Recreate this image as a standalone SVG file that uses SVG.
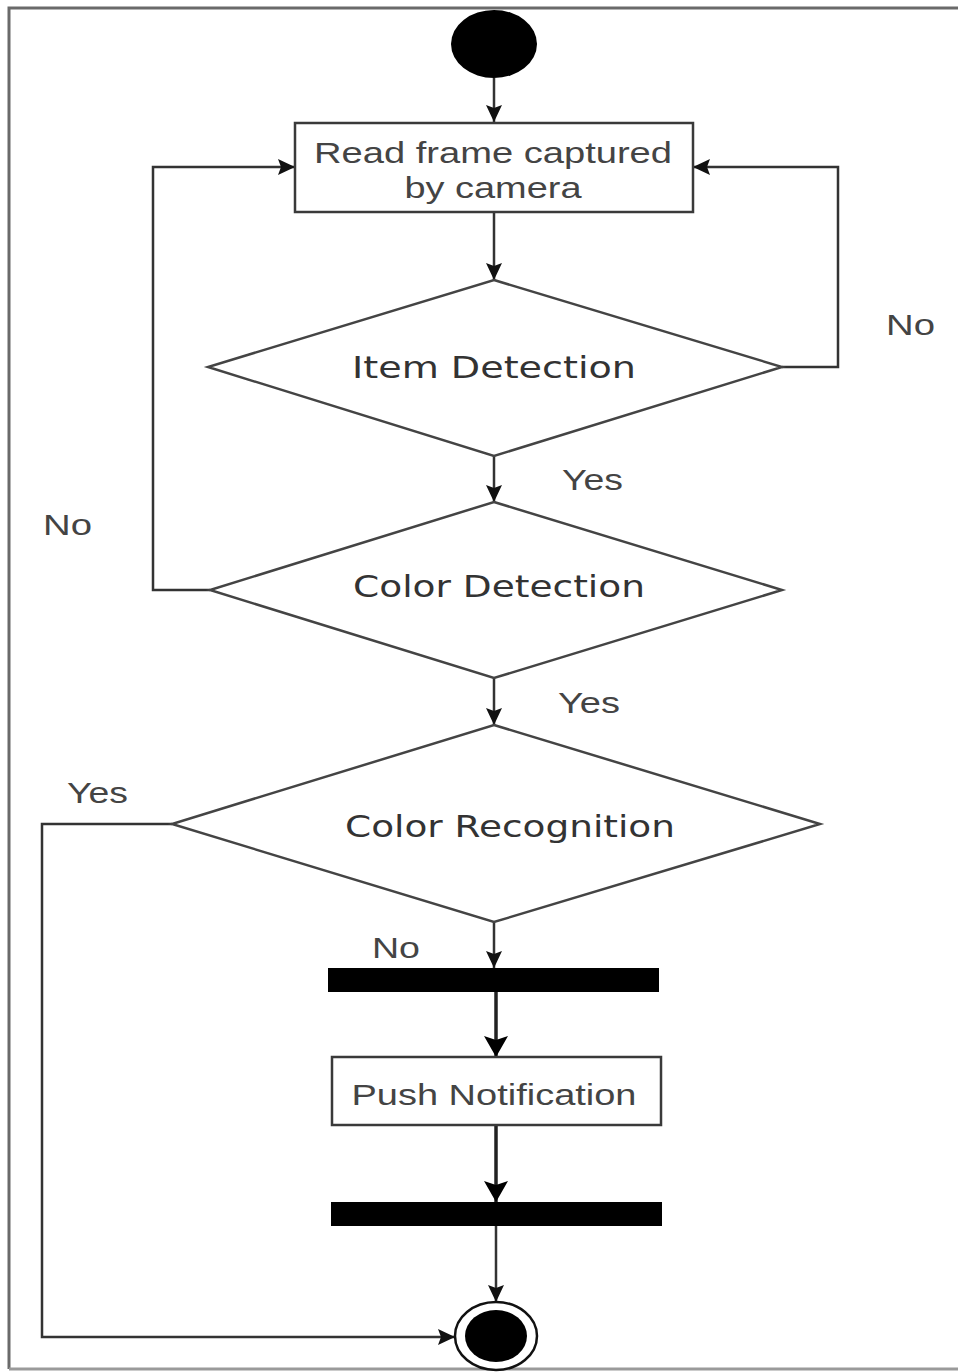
<svg xmlns="http://www.w3.org/2000/svg" width="958" height="1372" viewBox="0 0 958 1372">
<defs>
<style>
.frame{fill:none;stroke:#6a6a6a;stroke-width:3}
.frameb{fill:none;stroke:#9a9a9a;stroke-width:3}
.box{fill:#fff;stroke:#3a3a3a;stroke-width:2.5}
.dia{fill:#fff;stroke:#444;stroke-width:2.5}
.con{fill:none;stroke:#333;stroke-width:2.5}
.thick{fill:none;stroke:#222;stroke-width:3.5}
.bar{fill:#000}
.t{font-family:"DejaVu Sans",Verdana,sans-serif;font-size:30px;fill:#333;text-anchor:middle}
.a{font-family:"Liberation Sans",Arial,sans-serif;font-size:30px;fill:#444;text-anchor:middle}
.lab{font-family:"Liberation Sans",Arial,sans-serif;font-size:29px;fill:#444}
</style>
<marker id="ah" markerUnits="userSpaceOnUse" markerWidth="18" markerHeight="16" refX="17" refY="8" orient="auto">
<path d="M0,0 L17,8 L0,16 L3,8 z" fill="#111"/>
</marker>
<marker id="ahb" markerUnits="userSpaceOnUse" markerWidth="22" markerHeight="24" refX="21" refY="12" orient="auto">
<path d="M0,0 L21,12 L0,24 L4,12 z" fill="#000"/>
</marker>
</defs>
<rect width="958" height="1372" fill="#fff"/>
<path class="frame" d="M958,8 H9 V1369"/>
<path class="frameb" d="M9,1369 H958"/>

<g id="connectors">
<path class="con" d="M494,78 V122" marker-end="url(#ah)"/>
<path class="con" d="M494,212 V280" marker-end="url(#ah)"/>
<path class="con" d="M782,367 H838 V167 H693" marker-end="url(#ah)"/>
<path class="con" d="M494,456 V502" marker-end="url(#ah)"/>
<path class="con" d="M210,590 H153 V167 H295" marker-end="url(#ah)"/>
<path class="con" d="M494,678 V725" marker-end="url(#ah)"/>
<path class="con" d="M494,922 V968" marker-end="url(#ah)"/>
<path class="con" d="M172,824 H42 V1337 H455" marker-end="url(#ah)"/>
<path class="thick" d="M496,992 V1057" marker-end="url(#ahb)"/>
<path class="thick" d="M496,1125 V1202" marker-end="url(#ahb)"/>
<path class="con" d="M496,1226 V1302" marker-end="url(#ah)"/>
<text class="lab" x="886" y="335" textLength="49" lengthAdjust="spacingAndGlyphs">No</text>
<text class="lab" x="43" y="535" textLength="49" lengthAdjust="spacingAndGlyphs">No</text>
<text class="lab" x="562" y="490" textLength="61" lengthAdjust="spacingAndGlyphs">Yes</text>
<text class="lab" x="558" y="713" textLength="62" lengthAdjust="spacingAndGlyphs">Yes</text>
<text class="lab" x="67" y="803" textLength="61" lengthAdjust="spacingAndGlyphs">Yes</text>
<text class="lab" x="372" y="958" textLength="48" lengthAdjust="spacingAndGlyphs">No</text>
</g>

<g id="start">
<ellipse cx="494" cy="44" rx="43" ry="34" fill="#000"/>
</g>

<g id="read-frame">
<rect class="box" x="295" y="123" width="398" height="89"/>
<text class="a" x="493" y="163" textLength="358" lengthAdjust="spacingAndGlyphs">Read frame captured</text>
<text class="a" x="493" y="198" textLength="177" lengthAdjust="spacingAndGlyphs">by camera</text>
</g>

<g id="item-detection">
<polygon class="dia" points="494,280 782,367 494,456 208,367"/>
<text class="t" x="494" y="378" textLength="284" lengthAdjust="spacingAndGlyphs">Item Detection</text>
</g>

<g id="color-detection">
<polygon class="dia" points="494,502 782,590 494,678 210,590"/>
<text class="t" x="499" y="597" textLength="292" lengthAdjust="spacingAndGlyphs">Color Detection</text>
</g>

<g id="color-recognition">
<polygon class="dia" points="494,725 820,824 494,922 172,824"/>
<text class="t" x="510" y="837" textLength="330" lengthAdjust="spacingAndGlyphs">Color Recognition</text>
</g>

<g id="fork">
<rect class="bar" x="328" y="968" width="331" height="24"/>
</g>

<g id="push-notification">
<rect class="box" x="332" y="1057" width="329" height="68"/>
<text class="a" x="494" y="1105" textLength="285" lengthAdjust="spacingAndGlyphs">Push Notification</text>
</g>

<g id="join">
<rect class="bar" x="331" y="1202" width="331" height="24"/>
</g>

<g id="end">
<ellipse cx="496" cy="1336" rx="41" ry="34" fill="#fff" stroke="#111" stroke-width="2.5"/>
<ellipse cx="496" cy="1336" rx="31" ry="26" fill="#000"/>
</g>
</svg>
